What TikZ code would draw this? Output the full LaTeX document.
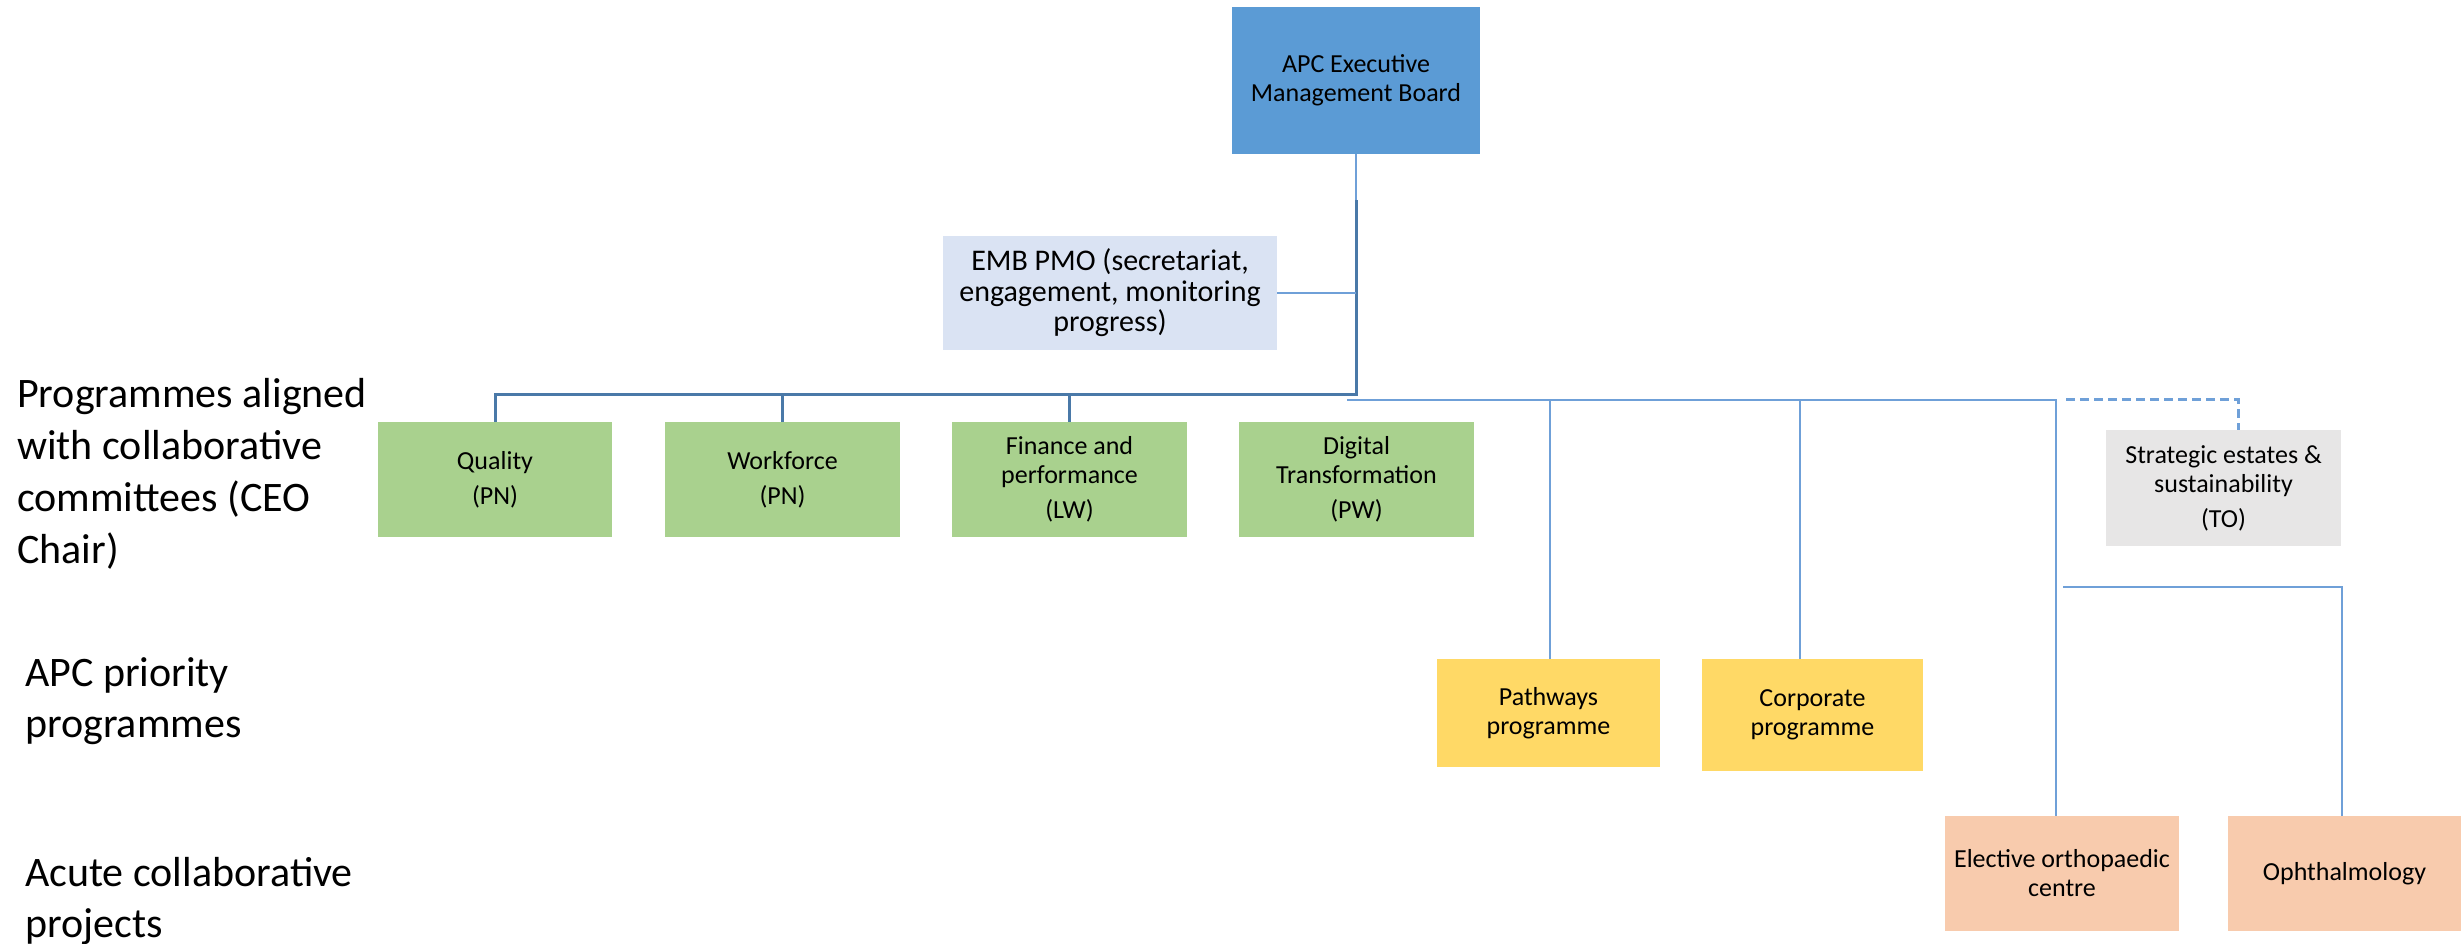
\documentclass[tikz,border=0pt]{standalone}
\usepackage{fontspec}
\setmainfont{Carlito}
\definecolor{embblue}{HTML}{5B9BD5}
\definecolor{pmoblue}{HTML}{DAE3F3}
\definecolor{boxgreen}{HTML}{A9D18E}
\definecolor{boxyellow}{HTML}{FFD966}
\definecolor{boxgray}{HTML}{E7E6E6}
\definecolor{boxorange}{HTML}{F8CBAD}
\definecolor{darkline}{HTML}{4A79A8}
\definecolor{lightline}{HTML}{6FA0D8}
\begin{document}
\begin{tikzpicture}[x=1pt,y=-1pt,
  box/.style={draw=none, inner sep=0pt, align=center, text=black,
    font=\fontsize{26}{29}\selectfont},
  lbl/.style={inner sep=0pt, align=left, anchor=base west,
    font=\fontsize{42}{51}\selectfont},
  darkconn/.style={draw=darkline, line width=3pt},
  lightconn/.style={draw=lightline, line width=2pt},
  dashconn/.style={draw=lightline, line width=3pt, dash pattern=on 9pt off 5pt}
]
\useasboundingbox (0,0) rectangle (2461,944);

% boxes
\node[box, fill=embblue, minimum width=248pt, minimum height=147pt] (emb) at (1356,80.5) {APC Executive\\Management Board};
\node[box, fill=pmoblue, minimum width=334pt, minimum height=114pt, font=\fontsize{30}{30.5}\selectfont] (pmo) at (1110,293) {EMB PMO (secretariat,\\engagement, monitoring\\progress)};

\node[box, fill=boxgreen, minimum width=234pt, minimum height=115pt] (q) at (495,479.5) {Quality\\[6pt](PN)};
\node[box, fill=boxgreen, minimum width=235pt, minimum height=115pt] (wf) at (782.5,479.5) {Workforce\\[6pt](PN)};
\node[box, fill=boxgreen, minimum width=235pt, minimum height=115pt] (fin) at (1069.5,479.5) {Finance and\\performance\\[6pt](LW)};
\node[box, fill=boxgreen, minimum width=235pt, minimum height=115pt] (dig) at (1356.5,479.5) {Digital\\Transformation\\[6pt](PW)};
\node[box, fill=boxgray, minimum width=235pt, minimum height=116pt] (se) at (2223.5,488) {Strategic estates \&\\sustainability\\[6pt](TO)};

\node[box, fill=boxyellow, minimum width=223pt, minimum height=108pt] (pw) at (1548.5,713) {Pathways\\programme};
\node[box, fill=boxyellow, minimum width=221pt, minimum height=112pt] (cp) at (1812.5,715) {Corporate\\programme};

\node[box, fill=boxorange, minimum width=234pt, minimum height=115pt] (eo) at (2062,873.5) {Elective orthopaedic\\centre};
\node[box, fill=boxorange, minimum width=233pt, minimum height=115pt] (oph) at (2344.5,873.5) {Ophthalmology};

% left labels (anchor = baseline of last line)
\node[lbl, font=\fontsize{42}{52}\selectfont] (l1) at (17,563) {Programmes aligned\\with collaborative\\committees (CEO\\Chair)};
\node[lbl] (l2) at (25,737) {APC priority\\programmes};
\node[lbl] (l3) at (25,937) {Acute collaborative\\projects};

% junction coordinates
\coordinate (t1) at (1356,200);
\coordinate (t2) at (1356,394);
\coordinate (h1) at (1347,400);
\coordinate (h2) at (2056,400);
\coordinate (pj) at (1550,400);
\coordinate (cj) at (1800,400);
\coordinate (oj) at (2063,587);
\coordinate (ok) at (2342,587);
\coordinate (dj) at (2066,399);
\coordinate (dk) at (2238,399);

% connectors
\draw[lightconn] (emb.south) -- (t1);
\draw[darkconn] (t1) -- (t2) -| (q.north);
\draw[darkconn] (wf.north) -- (wf.north |- t2);
\draw[darkconn] (fin.north) -- (fin.north |- t2);
\draw[lightconn] (pmo.east) -- (pmo.east -| t1);
\draw[lightconn] (h1) -- (h2) -- (h2 |- eo.north);
\draw[lightconn] (pj) -- (pj |- pw.north);
\draw[lightconn] (cj) -- (cj |- cp.north);
\draw[lightconn] (oj) -- (ok) -- (ok |- oph.north);
\draw[dashconn] (dj) -- (dk) -- (dk |- se.north);
\end{tikzpicture}
\end{document}
